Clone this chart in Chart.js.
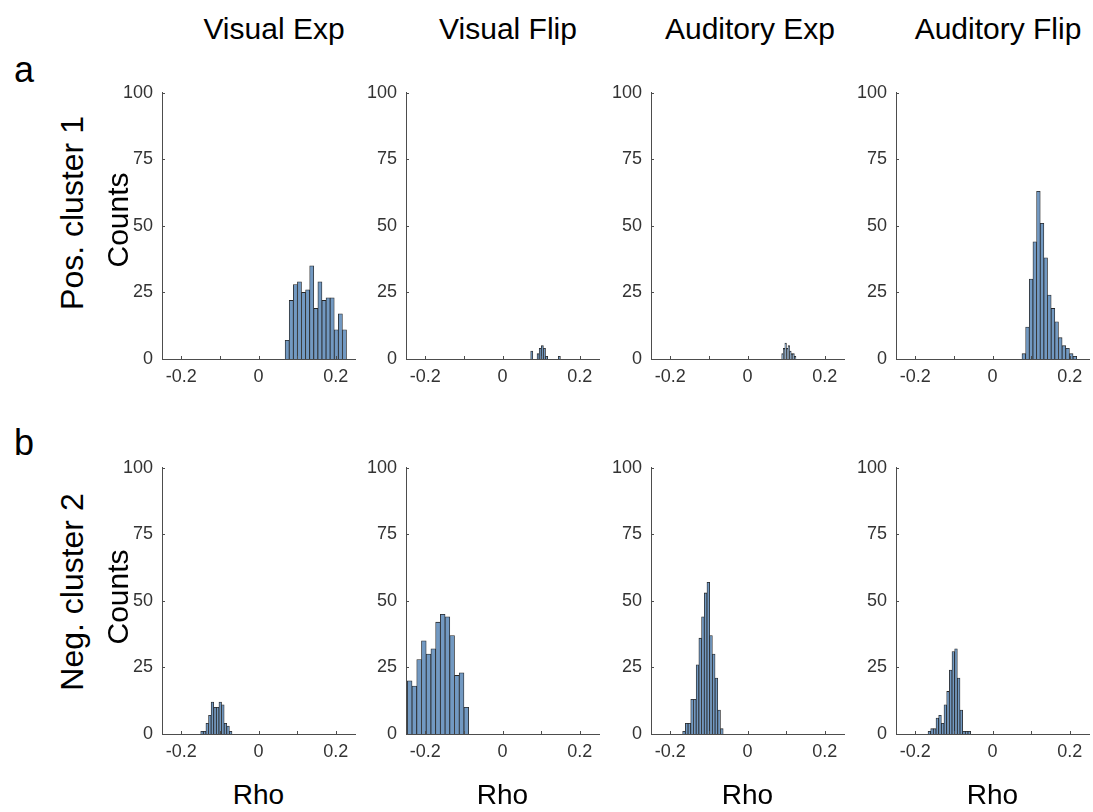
<!DOCTYPE html>
<html>
<head>
<meta charset="utf-8">
<title>Rho histograms</title>
<script src="https://cdn.jsdelivr.net/npm/chart.js@4.4.1/dist/chart.umd.min.js"></script>
<style>
    body { margin: 0; background: #fff; font-family: "Liberation Sans", Arial, Helvetica, sans-serif; }
    #fig { position: relative; width: 1093px; height: 812px; overflow: hidden; }
    .panel { position: absolute; }
    .txt { position: absolute; white-space: nowrap; color: #000; transform: translate(-50%, -50%); line-height: 1; }
    .rot { transform: translate(-50%, -50%) rotate(-90deg); }
</style>
</head>
<body>
<div id="fig"></div>
<script>
// Labels
const columnTitles = ['Visual Exp', 'Visual Flip', 'Auditory Exp', 'Auditory Flip'];
const rowLabels = ['Pos. cluster 1', 'Neg. cluster 2'];
const rowLetters = ['a', 'b'];
const yTicks = [0, 25, 50, 75, 100];
const xTicks = [-0.2, -0.1, 0, 0.1, 0.2];
const xTickLabels = ['-0.2', '', '0', '', '0.2'];

// Histograms: [first bin edge, bin width] and counts per bin
const posVisExpBins = [0.069, 0.0106];
const posVisExpCounts = [7, 22, 28, 29, 25, 26, 35, 19, 29, 22, 23, 23, 11, 17, 11];
const posVisFlipBins = [0.073, 0.0055];
const posVisFlipCounts = [3, 0, 0, 2, 4, 5, 4, 1, 0, 0, 0, 0, 0, 1];
const posAudExpBins = [0.0886, 0.0041];
const posAudExpCounts = [2, 4, 6, 4, 5, 3, 2, 2, 1];
const posAudFlipBins = [0.0764, 0.00945];
const posAudFlipCounts = [2, 12, 30, 44, 63, 51, 38, 24, 19, 14, 8, 5, 4, 2, 1];

const negVisExpBins = [-0.1497, 0.00675];
const negVisExpCounts = [1, 1, 4, 7, 12, 10, 10, 12, 11, 4, 3, 1];
const negVisFlipBins = [-0.2466, 0.01223];
const negVisFlipCounts = [20, 18, 28, 35, 30, 32, 42, 45, 44, 37, 22, 23, 10];
const negAudExpBins = [-0.168, 0.007];
const negAudExpCounts = [1, 4, 4, 13, 13, 26, 36, 44, 53, 57, 37, 30, 21, 9, 2];
const negAudFlipBins = [-0.167, 0.0069];
const negAudFlipCounts = [1, 2, 2, 6, 7, 4, 11, 16, 24, 31, 32, 21, 9, 1, 1, 1];

const panels = [
    [[posVisExpBins, posVisExpCounts], [posVisFlipBins, posVisFlipCounts],
     [posAudExpBins, posAudExpCounts], [posAudFlipBins, posAudFlipCounts]],
    [[negVisExpBins, negVisExpCounts], [negVisFlipBins, negVisFlipCounts],
     [negAudExpBins, negAudExpCounts], [negAudFlipBins, negAudFlipCounts]]
];

// Layout (plot area of each panel)
const panelLeft = [162, 406, 651, 896];
const rowTop = [83, 458];
const plotW = 193;
const plotH = 276;
const axisW = 60;
const axisH = 40;
const padTop = 10;
const padRight = 10;

const fontFamily = '"Liberation Sans", Arial, Helvetica, sans-serif';
const barFill = '#7299c2';
const barEdge = '#262626';
const axisColor = '#4d4d4d';
const tickColor = '#333333';

const fig = document.getElementById('fig');

function addText(text, x, y, size, rotated) {
    const el = document.createElement('div');
    el.className = 'txt' + (rotated ? ' rot' : '');
    el.textContent = text;
    el.style.left = x + 'px';
    el.style.top = y + 'px';
    el.style.fontSize = size + 'px';
    fig.appendChild(el);
}

// Inward tick marks like the original figure
const inwardTicks = {
    id: 'inwardTicks',
    afterDraw(chart) {
        const { ctx, chartArea, scales } = chart;
        ctx.save();
        ctx.strokeStyle = axisColor;
        ctx.lineWidth = 1;
        ctx.beginPath();
        scales.x.ticks.forEach(t => {
            const px = Math.round(scales.x.getPixelForValue(t.value)) + 0.5;
            ctx.moveTo(px, chartArea.bottom);
            ctx.lineTo(px, chartArea.bottom - 3);
        });
        scales.y.ticks.forEach(t => {
            const py = Math.round(scales.y.getPixelForValue(t.value)) + 0.5;
            ctx.moveTo(chartArea.left, py);
            ctx.lineTo(chartArea.left + 3, py);
        });
        ctx.stroke();
        ctx.restore();
    }
};

function makePanel(row, col) {
    const [bins, counts] = panels[row][col];
    const canvas = document.createElement('canvas');
    const w = axisW + plotW + padRight;
    const h = padTop + plotH + axisH;
    canvas.width = w;
    canvas.height = h;
    canvas.className = 'panel';
    canvas.style.left = (panelLeft[col] - axisW) + 'px';
    canvas.style.top = (rowTop[row] - padTop) + 'px';
    canvas.style.width = w + 'px';
    canvas.style.height = h + 'px';
    fig.appendChild(canvas);

    const data = counts.map((c, i) => ({ x: bins[0] + bins[1] * (i + 0.5), y: c }));

    new Chart(canvas, {
        type: 'bar',
        data: {
            datasets: [{
                data: data,
                backgroundColor: barFill,
                borderColor: barEdge,
                borderWidth: 0.8,
                borderSkipped: 'start',
                barPercentage: 1,
                categoryPercentage: 1
            }]
        },
        options: {
            responsive: false,
            animation: false,
            devicePixelRatio: 1,
            layout: { padding: { top: padTop, right: padRight, left: 0, bottom: 0 } },
            plugins: {
                legend: { display: false },
                tooltip: { enabled: false }
            },
            scales: {
                x: {
                    type: 'linear',
                    min: -0.25,
                    max: 0.25,
                    offset: false,
                    grid: { display: false, drawTicks: false },
                    border: { display: true, color: axisColor, width: 1 },
                    afterBuildTicks: s => { s.ticks = xTicks.map(v => ({ value: v })); },
                    ticks: {
                        autoSkip: false,
                        maxRotation: 0,
                        padding: 7,
                        color: tickColor,
                        font: { size: 18, family: fontFamily },
                        callback: (v, i) => xTickLabels[i]
                    },
                    afterFit: s => { s.height = axisH; }
                },
                y: {
                    min: 0,
                    max: 100,
                    grid: { display: false, drawTicks: false },
                    border: { display: true, color: axisColor, width: 1 },
                    afterBuildTicks: s => { s.ticks = yTicks.map(v => ({ value: v })); },
                    ticks: {
                        padding: 9,
                        color: tickColor,
                        font: { size: 18, family: fontFamily }
                    },
                    afterFit: s => { s.width = axisW; }
                }
            }
        },
        plugins: [inwardTicks]
    });
}

for (let r = 0; r < 2; r++) {
    for (let c = 0; c < 4; c++) {
        makePanel(r, c);
    }
}

// Titles and labels
const titleX = [274, 508, 750, 998];
columnTitles.forEach((t, i) => addText(t, titleX[i], 29, 30));
rowLetters.forEach((t, i) => addText(t, 24, [70, 443][i], 36));
rowLabels.forEach((t, i) => addText(t, 72, [213, 592][i], 32, true));
[220, 597].forEach(y => addText('Counts', 118, y, 30, true));
panelLeft.forEach(l => addText('Rho', l + plotW / 2, 795, 28));
</script>
</body>
</html>
